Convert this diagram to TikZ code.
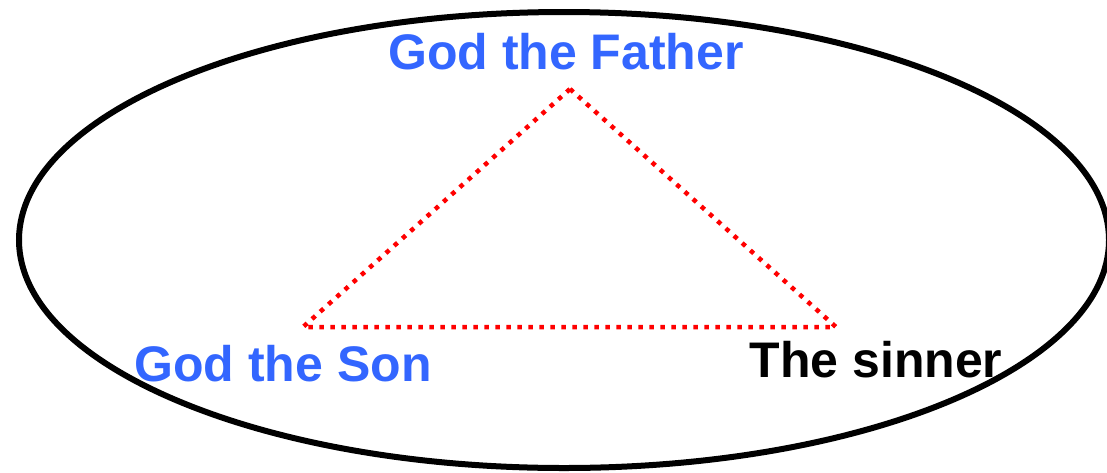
\documentclass[tikz,border=0pt]{standalone}
\usepackage{fontspec}
\setmainfont{Liberation Sans}
\definecolor{godblue}{RGB}{51,102,255}
\begin{document}
\begin{tikzpicture}[x=1pt,y=-1pt,
  lbl/.style={anchor=base,inner sep=0pt,font=\bfseries\fontsize{50}{60}\selectfont},
  dotline/.style={draw=red,line width=4.5pt,dash pattern=on 4.5pt off 6.5pt}]
\useasboundingbox (0,0) rectangle (1107,472);
\begin{scope}
\clip (0,0) rectangle (1107,472);
\draw[line width=6pt] (564,240) ellipse [x radius=545, y radius=228];
\end{scope}
\coordinate (apex) at (570,89);
\coordinate (bl) at (303,327);
\coordinate (br) at (836,327);
\draw[dotline] (apex) -- (br) -- (bl) -- cycle;
\node[lbl,text=godblue] (father) at (566,69) {God the Father};
\node[lbl,text=godblue] (son) at (283,381) {God the Son};
\node[lbl,text=black] (sinner) at (876,377) {The sinner};
\end{tikzpicture}
\end{document}
